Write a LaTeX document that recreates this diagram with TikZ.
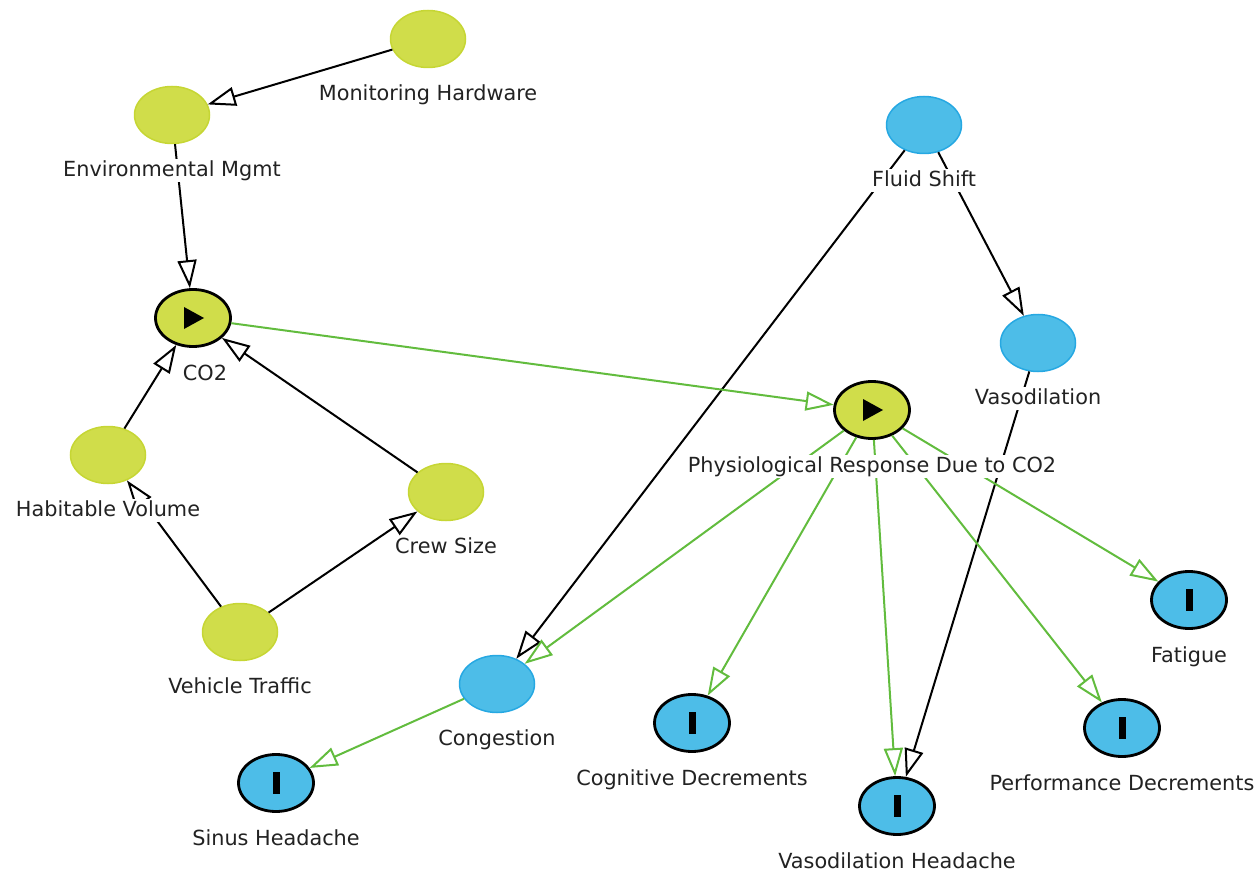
\documentclass[tikz,border=0pt]{standalone}
\usepackage{fontspec}
\setmainfont{DejaVu Sans}
\usetikzlibrary{arrows.meta,positioning,shapes.geometric}

\definecolor{leafgreen}{RGB}{208,221,74}
\definecolor{leafrim}{RGB}{198,214,52}
\definecolor{skyblue}{RGB}{77,189,232}
\definecolor{skyrim}{RGB}{38,168,226}
\definecolor{linkgreen}{RGB}{98,188,62}
\definecolor{inkgray}{RGB}{34,34,34}

\begin{document}
\begin{tikzpicture}[x=1pt,y=-1pt,
    var/.style={ellipse,minimum width=75pt,minimum height=57pt,inner sep=0pt},
    env/.style={var,fill=leafgreen,draw=leafrim,line width=1.5pt},
    phys/.style={var,fill=skyblue,draw=skyrim,line width=1.5pt},
    active/.style={var,fill=leafgreen,draw=black,line width=2.8pt,
      path picture={\fill[black] ([shift={(-9,-11)}]path picture bounding box.center)
        -- ++(20,11) -- ++(-20,11) -- cycle;}},
    outcome/.style={var,fill=skyblue,draw=black,line width=2.8pt,
      path picture={\fill[black] ([shift={(-3.5,-11)}]path picture bounding box.center)
        rectangle ++(7,22);}},
    tag/.style={fill=white,text=inkgray,inner sep=2pt,text height=15pt,text depth=4pt,
      font=\fontsize{20.8}{23}\selectfont},
    cause/.style={draw=black,line width=2pt,
      -{Triangle[open,length=28pt,width=19pt]}},
    link/.style={draw=linkgreen,line width=2pt,
      -{Triangle[open,length=28pt,width=19pt]}}]

  \useasboundingbox (0,0) rectangle (1258,877);

  % variables
  \node[env] (mon) at (428,39) {};
  \node[env] (env) at (172,115) {};
  \node[active] (co2) at (193,318) {};
  \node[env] (hab) at (108,455) {};
  \node[env] (crew) at (446,492) {};
  \node[env] (traf) at (240,632) {};
  \node[phys] (fluid) at (924,125) {};
  \node[phys] (vaso) at (1038,343) {};
  \node[active] (resp) at (872,410) {};
  \node[phys] (cong) at (497,684) {};
  \node[outcome] (sinus) at (276,783) {};
  \node[outcome] (cog) at (692,723) {};
  \node[outcome] (vhead) at (897,806) {};
  \node[outcome] (perf) at (1122,728) {};
  \node[outcome] (fat) at (1189,600) {};

  % influences
  \draw[cause] (mon) -- (env);
  \draw[cause] (env) -- (co2);
  \draw[cause] (hab) -- (co2);
  \draw[cause] (crew) -- (co2);
  \draw[cause] (traf) -- (hab);
  \draw[cause] (traf) -- (crew);
  \draw[cause] (fluid) -- (cong);
  \draw[cause] (fluid) -- (vaso);
  \draw[cause] (vaso) -- (vhead);
  \draw[link] (co2) -- (resp);
  \draw[link] (resp) -- (cong);
  \draw[link] (resp) -- (cog);
  \draw[link] (resp) -- (vhead);
  \draw[link] (resp) -- (perf);
  \draw[link] (resp) -- (fat);
  \draw[link] (cong) -- (sinus);

  % labels
  \node[tag,below=15pt of mon] (monl) {Monitoring Hardware};
  \node[tag,below=15pt of env] (envl) {Environmental Mgmt};
  \node[tag,below=15pt of co2,xshift=12pt] (co2l) {CO2};
  \node[tag,below=15pt of hab] (habl) {Habitable Volume};
  \node[tag,below=15pt of crew] (crewl) {Crew Size};
  \node[tag,below=15pt of traf] (trafl) {Vehicle Traffic};
  \node[tag,below=15pt of fluid] (fluidl) {Fluid Shift};
  \node[tag,below=15pt of vaso] (vasol) {Vasodilation};
  \node[tag,below=15pt of resp] (respl) {Physiological Response Due to CO2};
  \node[tag,below=15pt of cong] (congl) {Congestion};
  \node[tag,below=15pt of sinus] (sinusl) {Sinus Headache};
  \node[tag,below=15pt of cog] (cogl) {Cognitive Decrements};
  \node[tag,below=15pt of vhead] (vheadl) {Vasodilation Headache};
  \node[tag,below=15pt of perf] (perfl) {Performance Decrements};
  \node[tag,below=15pt of fat] (fatl) {Fatigue};
\end{tikzpicture}
\end{document}
